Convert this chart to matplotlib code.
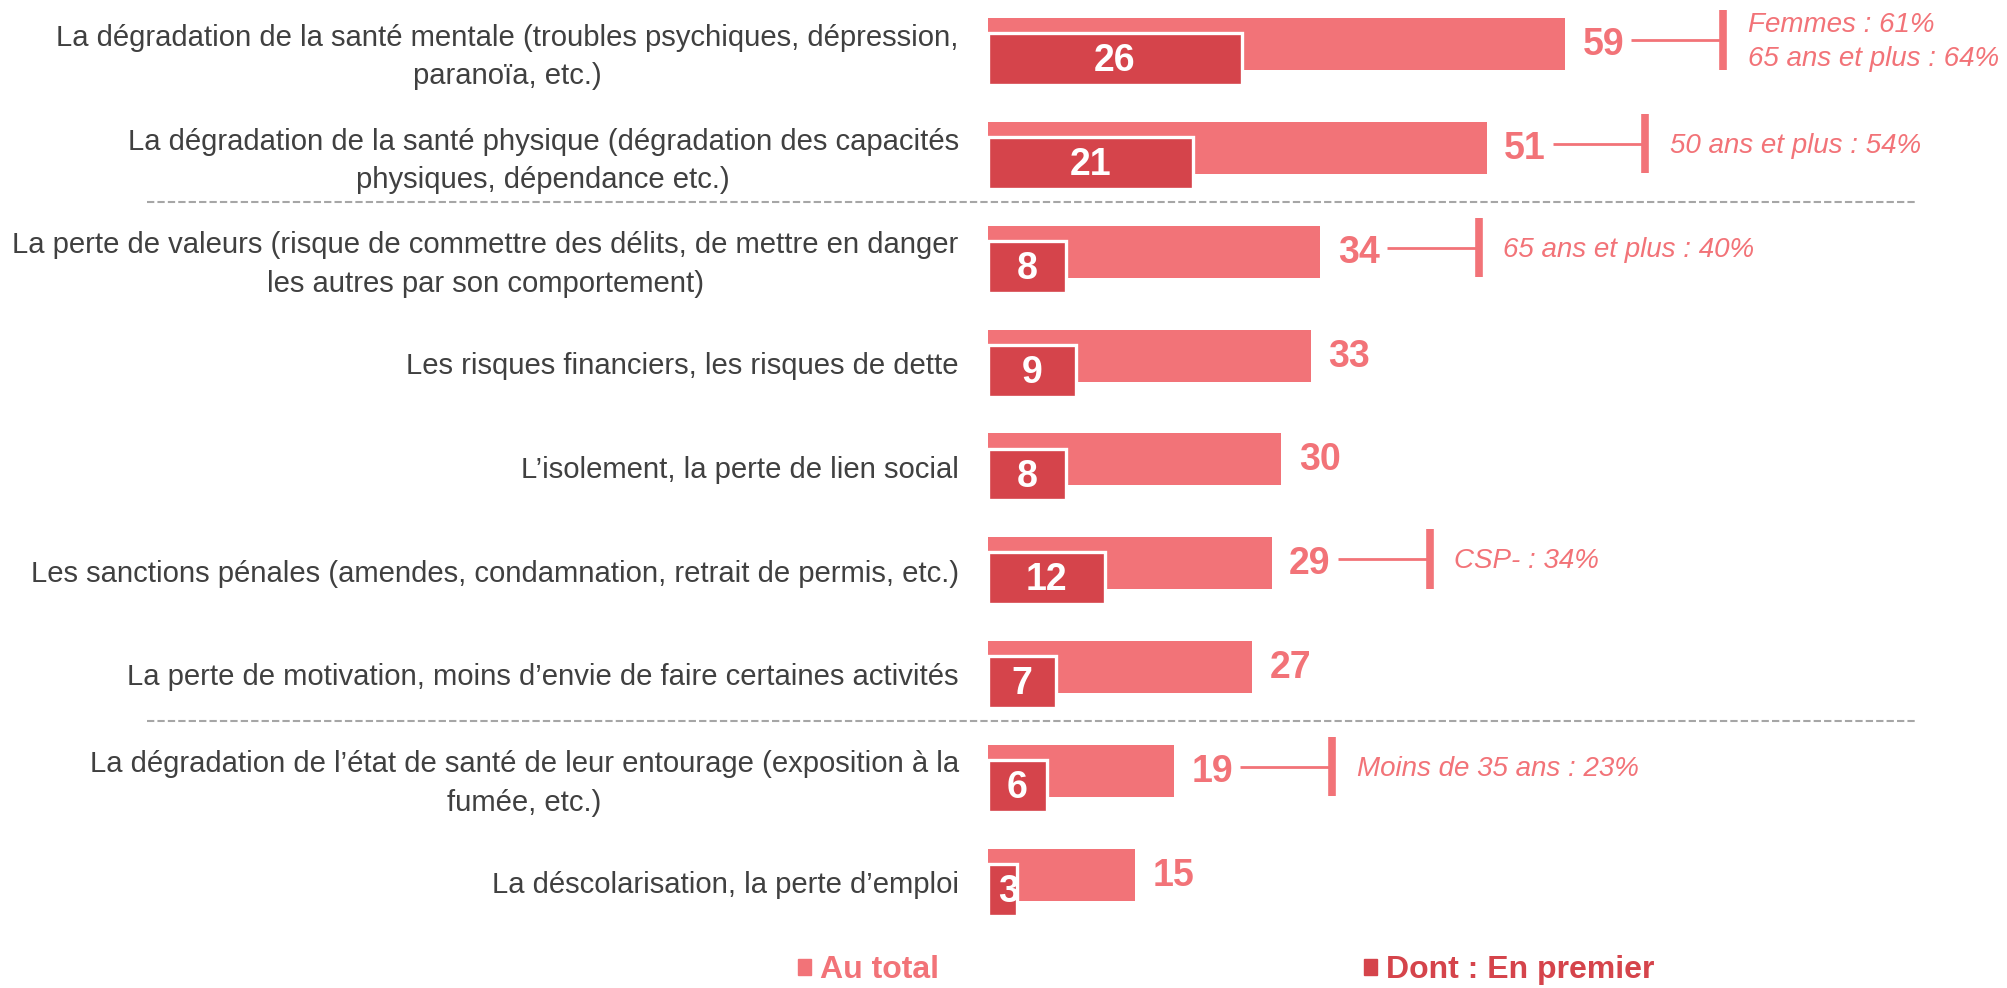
import matplotlib
matplotlib.use("Agg")
import matplotlib.pyplot as plt
import matplotlib.patches as mpatches

plt.rcParams['font.family'] = ['Liberation Sans', 'DejaVu Sans']

categories = [
    "La dégradation de la santé mentale (troubles psychiques, dépression,\nparanoïa, etc.)",
    "La dégradation de la santé physique (dégradation des capacités\nphysiques, dépendance etc.)",
    "La perte de valeurs (risque de commettre des délits, de mettre en danger\nles autres par son comportement)",
    "Les risques financiers, les risques de dette",
    "L’isolement, la perte de lien social",
    "Les sanctions pénales (amendes, condamnation, retrait de permis, etc.)",
    "La perte de motivation, moins d’envie de faire certaines activités",
    "La dégradation de l’état de santé de leur entourage (exposition à la\nfumée, etc.)",
    "La déscolarisation, la perte d’emploi",
]
au_total = [59, 51, 34, 33, 30, 29, 27, 19, 15]
en_premier = [26, 21, 8, 9, 8, 12, 7, 6, 3]
annot_rows = [0, 1, 2, 5, 7]
annot_texts = ["Femmes : 61%\n65 ans et plus : 64%", "50 ans et plus : 54%",
               "65 ans et plus : 40%", "CSP- : 34%", "Moins de 35 ans : 23%"]
legend_labels = ["Au total", "Dont : En premier"]
separator_after = [1, 6]

LIGHT = "#F27378"
DARK = "#D5444B"
TXT = "#404040"

W, H = 2007, 988
fig = plt.figure(figsize=(W / 100, H / 100), dpi=100)
px_unit = 9.78
x0 = 987.9
ax = fig.add_axes([x0 / W, 0, 1 - x0 / W, 1])
ax.set_xlim(0, (W - x0) / px_unit)
row_px = 103.8
top_px = 44.2
ax.set_ylim((H - top_px) / row_px, -top_px / row_px)

ypos = list(range(len(categories)))
bh = 0.5
off = 0.145

ax.barh(ypos, au_total, height=bh, color=LIGHT, linewidth=0, zorder=2)
ax.barh([y + off for y in ypos], en_premier, height=bh, color=DARK,
        edgecolor="white", linewidth=2.4, zorder=3)

for y, v in zip(ypos, au_total):
    ax.text(v + 1.8, y + 0.01, str(v), color=LIGHT, fontsize=27, fontweight="bold",
            ha="left", va="center", zorder=4)
for y, v in zip(ypos, en_premier):
    ax.text(v / 2 + (0.6 if v < 5 else 0), y + off + 0.02, str(v), color="white",
            fontsize=27, fontweight="bold", ha="center", va="center", zorder=4)

for r, t in zip(annot_rows, annot_texts):
    v = au_total[r]
    yl = r - 0.04
    ax.plot([v + 6.8, v + 16.2], [yl, yl], color=LIGHT, lw=2.0, zorder=4,
            solid_capstyle="butt")
    ax.plot([v + 16.2, v + 16.2], [yl - 0.285, yl + 0.285], color=LIGHT, lw=5.5,
            zorder=4, solid_capstyle="butt")
    ax.text(v + 18.7, yl + 0.02, t, color=LIGHT, fontsize=20, fontstyle="italic",
            ha="left", va="center", linespacing=1.42, zorder=4)

for s in separator_after:
    ys = s + 0.52
    ax.plot([(147 - x0) / px_unit, (1916 - x0) / px_unit], [ys, ys],
            color="#A6A6A6", lw=1.5, linestyle=(0, (3.5, 1.5)), clip_on=False, zorder=1)

ax.set_yticks([y + (0.045 if "\n" in c else 0.072) for y, c in zip(ypos, categories)])
ax.set_yticklabels(categories, fontsize=21.1, color=TXT, linespacing=1.48)
for t in ax.get_yticklabels():
    t.set_multialignment("center")
ax.tick_params(axis="y", length=0, pad=21)
ax.tick_params(axis="x", bottom=False, labelbottom=False)
for sp in ax.spines.values():
    sp.set_visible(False)
ax.patch.set_alpha(0)

handles = [mpatches.Patch(color=LIGHT), mpatches.Patch(color=DARK)]
fig.legend(handles, legend_labels, loc="center", bbox_to_anchor=(0.611, 0.018),
           ncol=2, frameon=False, handlelength=0.4, handleheight=0.4,
           handletextpad=0.3, columnspacing=13.3,
           prop={"size": 23, "weight": "bold"}, labelcolor=[LIGHT, DARK])

fig.savefig("out.png", dpi=100)
